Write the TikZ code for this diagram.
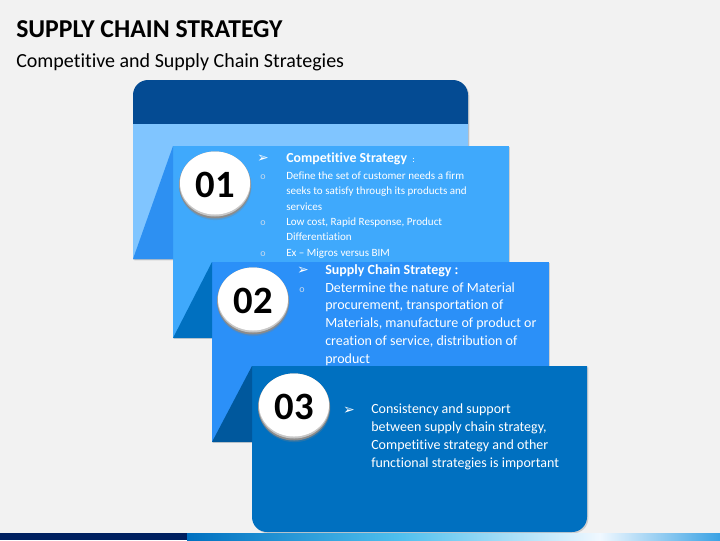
\documentclass[tikz,border=0pt]{standalone}
\usepackage{fontspec}
\setmainfont{Carlito}[Ligatures=NoCommon]
\newfontfamily\dingfont{DejaVu Sans}
\usetikzlibrary{shadows}
\definecolor{bgGray}{HTML}{F2F2F2}
\definecolor{cardTop}{HTML}{044B93}
\definecolor{cardZero}{HTML}{80C5FF}
\definecolor{cardOne}{HTML}{3FA9FC}
\definecolor{foldOne}{HTML}{2D90F2}
\definecolor{cardTwo}{HTML}{2B90F8}
\definecolor{foldTwo}{HTML}{0070C0}
\definecolor{cardThree}{HTML}{0070C0}
\definecolor{foldThree}{HTML}{00589D}
\definecolor{navy}{HTML}{002060}
\definecolor{bulletGray}{HTML}{C5D9EE}
\def\arr{{\dingfont\char"27A2}}

\begin{document}
\begin{tikzpicture}[x=0.75pt,y=0.75pt,yscale=-1,xscale=1,
  cardshadow/.style={drop shadow={opacity=0.3,shadow xshift=1pt,shadow yshift=-1pt}},
  numtext/.style={inner sep=0pt,font=\fontsize{29}{30}\selectfont\bfseries},
  arrbul/.style={anchor=base,inner sep=0pt,text=white,font=\fontsize{10.5}{11}\selectfont},
  obul/.style={anchor=base,inner sep=0pt,text=bulletGray,font=\fontsize{7.5}{8}\selectfont},
  txtone/.style={anchor=base west,inner sep=0pt,align=left,text=white,font=\fontsize{8.3}{11.6}\selectfont},
  txttwo/.style={anchor=base west,inner sep=0pt,align=left,text=white,font=\fontsize{10.5}{13.3}\selectfont}]
		\useasboundingbox (0,0) rectangle (720,540);
		\fill [bgGray] (0,0) rectangle (720,540);
		% header
		\node [anchor=base west,inner sep=0pt,font=\fontsize{19.3}{21}\selectfont\bfseries] (title) at (16,37) {SUPPLY CHAIN STRATEGY};
		\node [anchor=base west,inner sep=0pt,font=\fontsize{15}{17}\selectfont] (subtitle) at (16,67) {Competitive and Supply Chain Strategies};
		% back card
		\fill [cardTop,cardshadow] (133,259) -- (133,95) arc[start angle=180,end angle=270,radius=15] -- (453,80) arc[start angle=270,end angle=360,radius=15] -- (468,259) -- cycle ;
		\fill [cardZero] (133,124) rectangle (468,259) ;
		% card 01
		\fill [cardOne,cardshadow] (173,146) rectangle (509,338) ;
		\fill [foldOne] (173,146) -- (173,259) -- (133,259) -- cycle ;
		% card 02
		\fill [cardTwo,cardshadow] (212,262) rectangle (549,442) ;
		\fill [foldTwo] (212,262) -- (212,338) -- (173,338) -- cycle ;
		% card 03
		\fill [cardThree,cardshadow] (252,366) -- (587,366) -- (587,517) arc[start angle=0,end angle=90,radius=15] -- (267,532) arc[start angle=90,end angle=180,radius=15] -- cycle ;
		\fill [foldThree] (252,366) -- (252,442) -- (212,442) -- cycle ;
		% bottom strip
		\fill [navy] (0,533) rectangle (187,540) ;
		\shade [left color=foldTwo,right color={rgb,255:red,79;green,192;blue,238}] (187,533) rectangle (400,540) ;
		\shade [left color={rgb,255:red,79;green,192;blue,238},right color={rgb,255:red,240;green,248;blue,255}] (400,533) rectangle (600,540) ;
		\shade [left color={rgb,255:red,240;green,248;blue,255},right color={rgb,255:red,58;green,162;blue,228}] (600,533) rectangle (720,540) ;
		% number balls
		\foreach \cx/\cy in {215/185,253/301,294/407} {
			\fill [black!45,drop shadow={opacity=0.3,shadow xshift=0.3pt,shadow yshift=-1.2pt}] (\cx,\cy) ellipse [x radius=36,y radius=33.5] ;
			\fill [black!22] (\cx,\cy-1) ellipse [x radius=35.5,y radius=32.5] ;
			\fill [white] (\cx,\cy-2) ellipse [x radius=35,y radius=31.5] ;
		}
		\node [numtext] (ball1) at (215,185) {01};
		\node [numtext] (ball2) at (253,301) {02};
		\node [numtext] (ball3) at (294,407) {03};
		% card 01 text (multi-line nodes sit on their last line)
		\node [arrbul] (arrA) at (263,162) {\arr};
		\node [txtone] (headA) at (286,162) {\fontsize{10.4}{11.6}\selectfont\bfseries Competitive Strategy {\mdseries\fontsize{7}{8}\selectfont\ :}};
		\node [obul] (oA1) at (263,179) {o};
		\node [txtone] (textA1) at (286,210) {Define the set of customer needs a firm\\seeks to satisfy through its products and\\services};
		\node [obul] (oA2) at (263,225) {o};
		\node [txtone] (textA2) at (286,240.5) {Low cost, Rapid Response, Product\\Differentiation};
		\node [obul] (oA3) at (263,256) {o};
		\node [txtone] (textA3) at (286,256) {Ex -- Migros versus BIM};
		% card 02 text
		\node [arrbul] (arrB) at (303,274) {\arr};
		\node [txttwo] (headB) at (325,274) {\bfseries Supply Chain Strategy :};
		\node [obul] (oB1) at (302,292) {o};
		\node [txttwo] (textB1) at (325,363) {Determine the nature of Material\\procurement, transportation of\\Materials, manufacture of product or\\creation of service, distribution of\\product};
		% card 03 text
		\node [arrbul] (arrC) at (349,414) {\arr};
		\node [txttwo] (textC1) at (371,467) {Consistency and support\\between supply chain strategy,\\Competitive strategy and other\\functional strategies is important};
\end{tikzpicture}
\end{document}
